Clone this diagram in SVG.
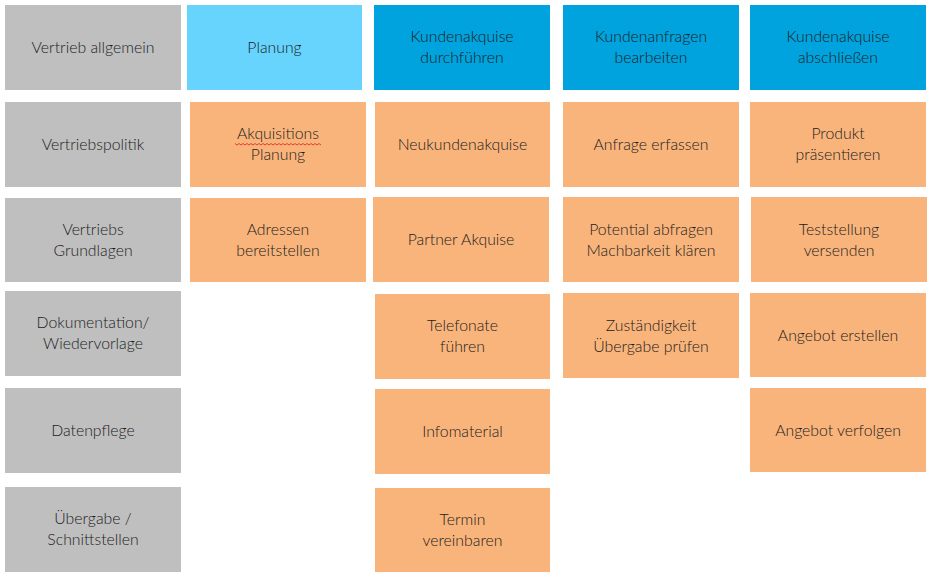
<svg xmlns="http://www.w3.org/2000/svg" width="930" height="578" viewBox="0 0 930 578">
<style>
.g{fill:#BFBFBF}
.lb{fill:#66D4FD}
.db{fill:#00A3DD}
.o{fill:#F8B47B}
text{font-family:Lato,"Open Sans","DejaVu Sans",sans-serif;font-size:15.8px;font-weight:300;fill:#1c1c1c;text-anchor:middle}
</style>
<rect width="930" height="578" fill="#ffffff"/>
<g id="n-vertrieb-allgemein"><rect class="g" x="5" y="5" width="176" height="85"/><text x="93" y="53">Vertrieb allgemein</text></g>
<g id="n-vertriebspolitik"><rect class="g" x="5" y="102" width="176" height="85"/><text x="93" y="150">Vertriebspolitik</text></g>
<g id="n-vertriebs-grundlagen"><rect class="g" x="5" y="198" width="176" height="84"/><text x="93" y="235">Vertriebs</text><text x="93" y="256">Grundlagen</text></g>
<g id="n-dokumentation"><rect class="g" x="5" y="291" width="176" height="85"/><text x="93" y="328">Dokumentation/</text><text x="93" y="349">Wiedervorlage</text></g>
<g id="n-datenpflege"><rect class="g" x="5" y="388" width="176" height="85"/><text x="93" y="436">Datenpflege</text></g>
<g id="n-uebergabe"><rect class="g" x="5" y="487" width="176" height="85"/><text x="93" y="524">Übergabe /</text><text x="93" y="545">Schnittstellen</text></g>

<g id="n-planung"><rect class="lb" x="187" y="5" width="175" height="85"/><text x="274.5" y="53">Planung</text></g>
<g id="n-akquisitions-planung"><rect class="o" x="190" y="102" width="176" height="85"/><text x="278" y="139">Akquisitions</text><path d="M235 143.5 l2 1.5 l2 -1.5 l2 1.5 l2 -1.5 l2 1.5 l2 -1.5 l2 1.5 l2 -1.5 l2 1.5 l2 -1.5 l2 1.5 l2 -1.5 l2 1.5 l2 -1.5 l2 1.5 l2 -1.5 l2 1.5 l2 -1.5 l2 1.5 l2 -1.5 l2 1.5 l2 -1.5 l2 1.5 l2 -1.5 l2 1.5 l2 -1.5 l2 1.5 l2 -1.5 l2 1.5 l2 -1.5 l2 1.5 l2 -1.5 l2 1.5 l2 -1.5 l2 1.5 l2 -1.5 l2 1.5 l2 -1.5 l2 1.5 l2 -1.5 l2 1.5 l2 -1.5 l2 1.5" fill="none" stroke="#e02020" stroke-width="0.8"/><text x="278" y="160">Planung</text></g>
<g id="n-adressen"><rect class="o" x="190" y="198" width="176" height="84"/><text x="278" y="235">Adressen</text><text x="278" y="256">bereitstellen</text></g>

<g id="n-kundenakquise-durchfuehren"><rect class="db" x="374" y="5" width="176" height="85"/><text x="462" y="42">Kundenakquise</text><text x="462" y="63">durchführen</text></g>
<g id="n-neukundenakquise"><rect class="o" x="375" y="102" width="175" height="85"/><text x="462.5" y="150">Neukundenakquise</text></g>
<g id="n-partner-akquise"><rect class="o" x="373" y="197" width="176" height="85"/><text x="461" y="245">Partner Akquise</text></g>
<g id="n-telefonate"><rect class="o" x="375" y="294" width="175" height="85"/><text x="462.5" y="331">Telefonate</text><text x="462.5" y="352">führen</text></g>
<g id="n-infomaterial"><rect class="o" x="375" y="389" width="175" height="85"/><text x="462.5" y="437">Infomaterial</text></g>
<g id="n-termin"><rect class="o" x="375" y="488" width="175" height="84"/><text x="462.5" y="525">Termin</text><text x="462.5" y="546">vereinbaren</text></g>

<g id="n-kundenanfragen"><rect class="db" x="563" y="5" width="176" height="85"/><text x="651" y="42">Kundenanfragen</text><text x="651" y="63">bearbeiten</text></g>
<g id="n-anfrage-erfassen"><rect class="o" x="563" y="102" width="176" height="85"/><text x="651" y="150">Anfrage erfassen</text></g>
<g id="n-potential"><rect class="o" x="563" y="197" width="176" height="85"/><text x="651" y="235">Potential abfragen</text><text x="651" y="256">Machbarkeit klären</text></g>
<g id="n-zustaendigkeit"><rect class="o" x="563" y="293" width="176" height="85"/><text x="651" y="331">Zuständigkeit</text><text x="651" y="352">Übergabe prüfen</text></g>

<g id="n-kundenakquise-abschliessen"><rect class="db" x="750" y="5" width="176" height="85"/><text x="838" y="42">Kundenakquise</text><text x="838" y="63">abschließen</text></g>
<g id="n-produkt"><rect class="o" x="750" y="102" width="176" height="85"/><text x="838" y="139">Produkt</text><text x="838" y="160">präsentieren</text></g>
<g id="n-teststellung"><rect class="o" x="751" y="197" width="176" height="85"/><text x="839" y="235">Teststellung</text><text x="839" y="256">versenden</text></g>
<g id="n-angebot-erstellen"><rect class="o" x="750" y="293" width="176" height="84"/><text x="838" y="341">Angebot erstellen</text></g>
<g id="n-angebot-verfolgen"><rect class="o" x="750" y="388" width="176" height="84"/><text x="838" y="436">Angebot verfolgen</text></g>

<g id="connectors"></g>
</svg>
